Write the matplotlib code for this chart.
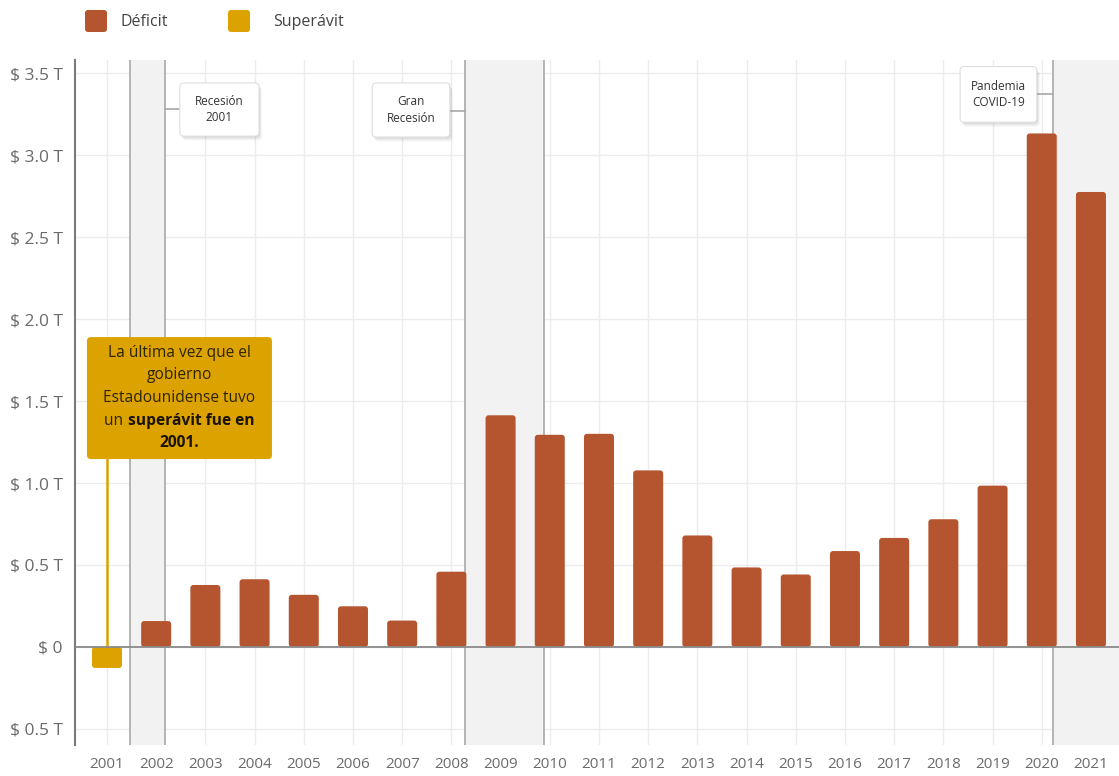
import matplotlib
matplotlib.use("Agg")
import matplotlib.pyplot as plt
from matplotlib.patches import FancyBboxPatch
from matplotlib.offsetbox import TextArea, HPacker, VPacker, AnnotationBbox

plt.rcParams["font.family"] = ["Open Sans", "DejaVu Sans"]

# US federal budget balance (trillions of dollars); positive = deficit, negative = surplus
years = list(range(2001, 2022))
balance = [-0.128, 0.158, 0.378, 0.413, 0.318, 0.248, 0.161, 0.459, 1.413, 1.294,
           1.300, 1.077, 0.680, 0.485, 0.442, 0.585, 0.665, 0.779, 0.984, 3.132, 2.775]
y_ticks = [-0.5, 0, 0.5, 1.0, 1.5, 2.0, 2.5, 3.0, 3.5]
y_tick_labels = ["$ 0.5 T", "$ 0", "$ 0.5 T", "$ 1.0 T", "$ 1.5 T", "$ 2.0 T",
                 "$ 2.5 T", "$ 3.0 T", "$ 3.5 T"]
recessions = [("Recesión\n2001", 2001.47, 2002.18),
              ("Gran\nRecesión", 2008.28, 2009.88),
              ("Pandemia\nCOVID-19", 2020.23, 2022.0)]
legend_labels = ["Déficit", "Superávit"]

DEFICIT = "#B5552F"
SURPLUS = "#DBA200"
GRAY_TXT = "#6b6b6b"

W, H = 1119, 776
fig = plt.figure(figsize=(W / 100, H / 100), dpi=100)
ax = fig.add_axes([75 / W, 31 / H, 1044 / W, 685 / H])
XMIN, XMAX, YMIN, YMAX = 2000.35, 2021.57, -0.598, 3.58
ax.set_xlim(XMIN, XMAX)
ax.set_ylim(YMIN, YMAX)
# data units per pixel, used to keep rounded corners circular
x_per_px = (XMAX - XMIN) / 1044
y_per_px = (YMAX - YMIN) / 685
aspect = y_per_px / x_per_px

# grid
for t in y_ticks:
    ax.axhline(t, color="#ececec", lw=1, zorder=0)
for yr in years:
    ax.axvline(yr, color="#ececec", lw=1, zorder=0)

# recession shading
for label, x0, x1 in recessions:
    ax.axvspan(x0, x1, color="#f2f2f2", zorder=0.5, lw=0)
    ax.axvline(x0, color="#a8a8a8", lw=1.2, zorder=0.6)
    if x1 < XMAX:
        ax.axvline(x1, color="#a8a8a8", lw=1.2, zorder=0.6)

# bars with softly rounded corners
colors = [SURPLUS if v < 0 else DEFICIT for v in balance]
bars = ax.bar(years, balance, width=0.61, color=colors, zorder=3)
for rect in bars:
    x, y = rect.get_xy()
    w, h = rect.get_width(), rect.get_height()
    if h < 0:
        y, h = y + h, -h
    rect.set_visible(False)
    ax.add_patch(FancyBboxPatch((x, y), w, h,
                                boxstyle=f"round,pad=0,rounding_size={3 * x_per_px}",
                                mutation_aspect=aspect, fc=rect.get_facecolor(),
                                ec="none", zorder=3))

ax.axhline(0, color="#8a8a8a", lw=1.3, zorder=4)

# recession labels
label_boxes = [
    (2002.48, 2004.09, 3.116, 3.44, 3.28, 2002.18),
    (2006.39, 2007.97, 3.11, 3.44, 3.27, 2008.28),
    (2018.34, 2019.90, 3.20, 3.54, 3.37, 2020.23),
]
r = 4 * x_per_px
for (label, _, _), (bx0, bx1, by0, by1, cy, cx) in zip(recessions, label_boxes):
    conn_x = bx1 if cx > bx1 else bx0
    ax.plot([conn_x, cx], [cy, cy], color="#a8a8a8", lw=1.2, zorder=5)
    for k, a in enumerate([0.05, 0.05, 0.04]):
        sh = FancyBboxPatch((bx0 + (k + 1) * x_per_px, by0 - 1.5 * (k + 1) * y_per_px),
                            bx1 - bx0, by1 - by0,
                            boxstyle=f"round,pad=0,rounding_size={r}", fc="black",
                            ec="none", alpha=a, zorder=5, mutation_aspect=aspect)
        ax.add_patch(sh)
    box = FancyBboxPatch((bx0, by0), bx1 - bx0, by1 - by0,
                         boxstyle=f"round,pad=0,rounding_size={r}", fc="white",
                         ec="#dedede", lw=0.8, zorder=6, mutation_aspect=aspect)
    ax.add_patch(box)
    ax.text((bx0 + bx1) / 2, (by0 + by1) / 2, label, ha="center", va="center",
            fontsize=8.5, color="#333333", linespacing=1.35, zorder=7)

# surplus callout
ax.plot([2001, 2001], [0, 1.15], color=SURPLUS, lw=1.8, zorder=2)
ax.add_patch(FancyBboxPatch((2000.593, 1.146), 3.76, 0.744,
                            boxstyle=f"round,pad=0,rounding_size={4 * x_per_px}",
                            mutation_aspect=aspect, fc=SURPLUS, ec="none", zorder=8))
reg = dict(fontsize=11.2, color="#2e2400")
bold = dict(fontsize=11.2, color="#1a1400", fontweight="bold")
lines = VPacker(children=[
    TextArea("La última vez que el", textprops=reg),
    TextArea("gobierno", textprops=reg),
    TextArea("Estadounidense tuvo", textprops=reg),
    HPacker(children=[TextArea("un ", textprops=reg),
                      TextArea("superávit fue en", textprops=bold)],
            align="baseline", pad=0, sep=0),
    TextArea("2001.", textprops=bold),
], align="center", pad=0, sep=4.8)
ab = AnnotationBbox(lines, (2002.47, 1.518), xycoords="data", frameon=False,
                    box_alignment=(0.5, 0.5), zorder=9)
ax.add_artist(ab)

# axes styling
for s in ["top", "right", "bottom"]:
    ax.spines[s].set_visible(False)
ax.spines["left"].set_color("#7a7a7a")
ax.spines["left"].set_linewidth(1.5)
ax.set_yticks(y_ticks)
ax.set_yticklabels(y_tick_labels, fontsize=12.5, color=GRAY_TXT)
ax.set_xticks(years)
ax.set_xticklabels([str(y) for y in years], fontsize=11, color=GRAY_TXT)
ax.tick_params(length=0)
ax.tick_params(axis="y", pad=9)
ax.tick_params(axis="x", pad=9)

# legend drawn in pixel space
lax = fig.add_axes([0, 0, 1, 1], zorder=10)
lax.set_xlim(0, W)
lax.set_ylim(H, 0)
lax.axis("off")
for (sx, tx), col, lab in zip([(85, 120), (228, 273)], [DEFICIT, SURPLUS], legend_labels):
    lax.add_patch(FancyBboxPatch((sx, 10), 22, 22, boxstyle="round,pad=0,rounding_size=3",
                                 fc=col, ec="none"))
    lax.text(tx, 22, lab, ha="left", va="center", fontsize=11.5, color="#444444")

fig.savefig("out.png", dpi=100, facecolor="white")
